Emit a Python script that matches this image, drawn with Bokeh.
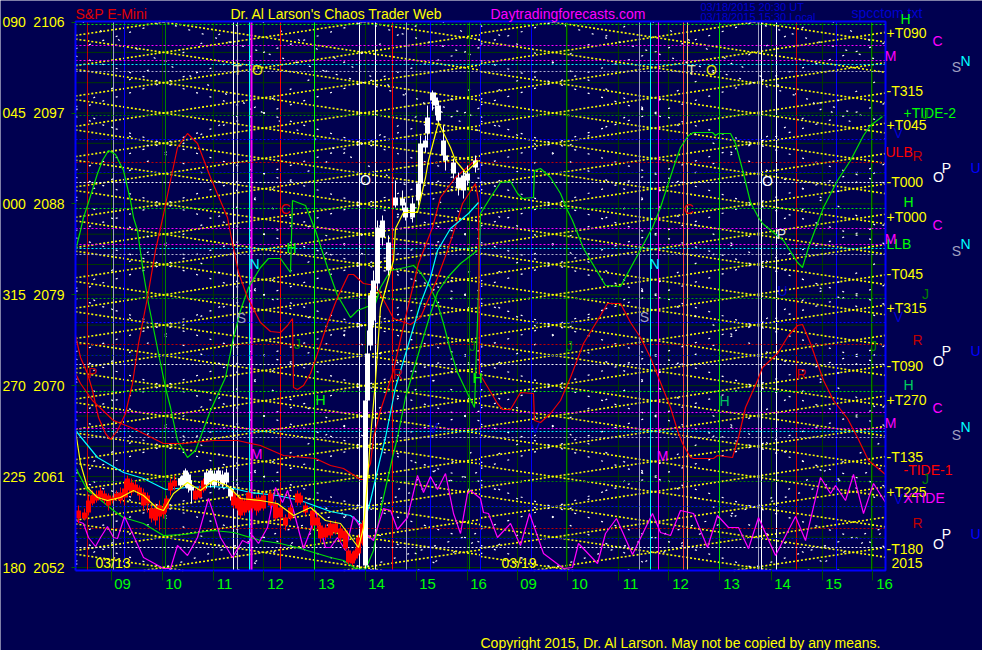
import numpy as np
from bokeh.embed import file_html
from bokeh.resources import INLINE
from bokeh.plotting import figure
from bokeh.models import FixedTicker, Label, Range1d

# ---- scales: time in chart bars, price in index points (about 10.1 levels per point)
BAR_SPAN = 810
LEVEL_SPAN = 549
LEVELS_PER_POINT = 10.1
BASE_LEVEL = 3
BASE_PRICE = 2052
PAGE_W, PAGE_H = 982, 650
LEFT_SPACE, BOTTOM_SPACE = 75, 80

def price(levels):
    return BASE_PRICE + (np.asarray(levels, dtype=float) - BASE_LEVEL) / LEVELS_PER_POINT

NAVY = "#000050"
YELLOW = "#ffff00"
LIME = "#00ff00"
FONT = "Liberation Sans"

price_ticks = [2052, 2061, 2070, 2079, 2088, 2097, 2106]
degree_labels = ["180", "225", "270", "315", "000", "045", "090"]
grid_prices = list(range(2052, 2107, 3))
hour_ticks = [36, 87, 138, 188, 239, 290, 341, 392, 442, 492, 543, 593, 644, 696, 747, 797]
hour_label_bars = [47, 98, 149, 200, 251, 301, 352, 403, 453, 504, 555, 605, 656, 707, 758, 809]
hour_labels = ["09", "10", "11", "12", "13", "14", "15", "16", "09", "10", "11", "12", "13", "14", "15", "16"]

event_bars = [12, 38, 49, 90, 158, 162, 174, 176, 205, 239, 284, 300, 317, 331, 355, 394, 405, 456,
              491, 564, 575, 583, 608, 612, 644, 683, 686, 701, 721, 761, 796]
event_colors = ["#c00000", "#a0a0c0", "#0000ff", "#008000", "#ffffff", "#c8c8c8", "#00ffff", "#ff00ff",
                "#ff0000", "#00ff00", "#ffffff", "#ffffff", "#ff0000", "#a0a0c0", "#0000ff", "#008000",
                "#0000ff", "#0000ff", "#008000", "#a0a0c0", "#00ffff", "#ff00ff", "#ff4040", "#ffcc66",
                "#00e000", "#a0a0c0", "#ffffff", "#ffffff", "#d00000", "#0000ff", "#008000"]
event_widths = [1, 1, 1, 1, 1, 1, 1, 2, 1, 1, 1, 1, 1, 1, 1, 1, 1, 1, 1, 1, 1, 1, 1, 1, 1, 1, 1, 1, 1, 1, 1]

planet_levels = [546, 525, 510, 506, 499, 455, 431, 408, 398, 388, 362, 342, 326, 322, 316, 272, 248, 226,
                 215, 206, 179, 158, 142, 139, 133, 89, 64, 42, 32, 23]
planet_colors = ["#00e000", "#ff00ff", "#ff00ff", "#00ffff", "#b0b0d0", "#008000", "#0000ff", "#c00000",
                 "#0000c0", "#ffffff", "#00e000", "#ff00ff", "#ff00ff", "#00ffff", "#b0b0d0", "#00a000",
                 "#0000ff", "#c00000", "#0000d0", "#ffffff", "#00e000", "#ff00ff", "#ff00ff", "#00ffff",
                 "#b0b0d0", "#008000", "#0000ff", "#c00000", "#0000d0", "#ffffff"]

tide2_bar = [0, 5, 8, 12, 22, 27, 33, 40, 48, 55, 58, 62, 68, 73, 83, 90, 95, 102, 112, 120, 135, 150, 158, 165, 173, 185, 193, 205, 210, 215, 217, 230, 240, 252, 262, 275, 282, 300, 305, 315, 330, 338, 345, 355, 362, 368, 375, 382, 392, 399, 403,
             405, 415, 425, 435, 442, 447, 458, 459, 465, 475, 485, 492, 497, 508, 530, 545, 563, 577, 585, 598, 605, 613, 618, 637, 640, 643, 655, 660, 668, 675, 683, 687, 698, 708, 722, 727, 733, 748, 762, 775, 788, 795, 807]
tide2_val = [320, 340, 353, 365, 397, 410, 420, 416, 400, 370, 353, 340, 297, 267, 217, 183, 163, 130, 113, 120, 160, 193, 233, 260, 283, 303, 312, 312, 305, 298, 370, 365, 340, 303, 275, 253, 260, 267, 283, 300, 303, 305, 298, 283, 267, 247, 220, 198, 177, 163, 278,
             357, 373, 388, 389, 377, 372, 373, 400, 402, 393, 377, 360, 350, 322, 285, 284, 317, 343, 363, 403, 423, 435, 438, 438, 435, 437, 437, 427, 397, 368, 353, 347, 338, 330, 308, 303, 323, 363, 390, 410, 435, 445, 454]

ulb_bar = [0, 5, 12, 17, 23, 30, 35, 42, 50, 57, 63, 72, 80, 88, 95, 102, 112, 122, 135, 152, 157, 163, 172, 185, 195, 205, 212, 217, 218, 222, 228, 235, 242, 252, 262, 273, 278, 288, 300, 310, 318, 335, 345, 361, 372, 382, 387, 400, 403, 404,
           422, 427, 435, 445, 458, 459, 465, 475, 485, 495, 508, 522, 532, 545, 555, 565, 575, 585, 595, 602, 607, 615, 618, 638, 642, 657, 663, 670, 682, 687, 702, 713, 722, 727, 735, 748, 758, 772, 782, 793, 810]
ulb_val = [235, 213, 197, 180, 153, 137, 131, 140, 157, 187, 227, 273, 320, 356, 390, 423, 437, 427, 393, 353, 327, 298, 273, 248, 239, 238, 245, 252, 183, 181, 185, 197, 217, 247, 273, 296, 296, 287, 285, 267, 252, 246, 253, 290, 320, 350, 367, 387, 370, 197,
           167, 161, 161, 178, 177, 150, 148, 157, 170, 193, 227, 250, 267, 267, 248, 233, 213, 188, 163, 140, 127, 113, 112, 112, 115, 113, 133, 163, 190, 203, 217, 235, 245, 246, 227, 190, 170, 152, 133, 110, 96]

tide1_bar = [0, 5, 17, 38, 58, 88, 108, 138, 162, 185, 208, 240, 255, 268, 285, 288, 295, 298, 305, 318, 330, 343, 357, 365, 380, 402]
tide1_val = [197, 187, 170, 150, 142, 127, 127, 130, 130, 125, 115, 112, 105, 102, 91, 91, 107, 133, 160, 200, 253, 307, 343, 373, 393, 412]

cyan_bar = [0, 22, 48, 68, 90, 112, 138, 158, 175, 202, 225, 255, 275, 288, 295, 305, 310, 320, 332, 345, 355, 362, 375, 393, 403]
cyan_val = [140, 113, 98, 92, 81, 83, 84, 82, 78, 75, 70, 59, 55, 45, 70, 113, 133, 183, 223, 267, 293, 320, 342, 357, 368]

lower_green_bar = [0, 12, 22, 38, 48, 68, 88, 108, 138, 158, 185, 205, 225, 255, 268, 280, 290, 298, 305, 317, 322, 330, 343, 355, 362, 372, 385, 402]
lower_green_val = [103, 80, 73, 60, 53, 47, 35, 36, 40, 38, 30, 27, 22, 13, 10, 2, 1, 20, 60, 113, 133, 173, 217, 257, 278, 293, 307, 320]

average_bar = [0, 5, 12, 22, 32, 45, 58, 68, 82, 88, 98, 112, 125, 138, 152, 165, 185, 202, 218, 235, 250, 265, 280, 283, 288, 292, 295, 300, 305, 318, 320, 328, 342, 350, 353, 363, 375, 380, 390, 403]
average_val = [140, 107, 83, 73, 70, 73, 80, 75, 62, 60, 77, 88, 80, 90, 85, 72, 70, 67, 55, 63, 50, 47, 27, 23, 43, 90, 133, 190, 263, 310, 342, 358, 358, 393, 410, 448, 423, 410, 398, 410]

xtide_bar = [0, 8, 13, 20, 25, 32, 38, 42, 49, 57, 68, 88, 95, 102, 112, 122, 133, 138, 145, 157, 167, 173, 177, 183, 192, 200, 207, 212, 218, 228, 235, 240, 250, 255, 262, 270, 278, 287, 298, 308, 315, 322, 332, 342, 348, 355, 362, 370, 378, 385, 392, 395, 405, 408, 413, 422, 435, 445, 454, 468, 488, 497, 503, 522, 530, 541, 557, 577, 585, 595, 605, 618, 632, 642, 653, 663, 673, 683, 700, 720, 730, 745, 755, 760, 770, 778, 788, 798, 810]
xtide_val = [50, 47, 33, 24, 33, 44, 33, 32, 54, 37, 13, 2, 2, 25, 15, 33, 72, 57, 33, 13, 30, 27, 35, 27, 43, 83, 68, 80, 60, 22, 40, 60, 23, 23, 33, 20, 54, 40, 30, 62, 60, 41, 53, 95, 78, 94, 81, 97, 57, 37, 77, 80, 72, 58, 57, 33, 47, 25, 57, 17, 2, 3, 27, 7, 37, 52, 16, 57, 38, 35, 60, 57, 23, 55, 43, 43, 22, 53, 15, 54, 30, 93, 77, 85, 70, 96, 57, 87, 68]

red_bar_x = [3, 9, 13, 17, 21, 25, 29, 33, 37, 41, 45, 49, 52, 56, 60, 64, 68, 72, 76, 80, 84, 88, 91, 95, 99, 120, 124, 128,
             158, 162, 165, 169, 173, 177, 181, 183, 188, 195, 200, 205, 210, 215, 222, 225, 230, 237, 242, 245, 250, 255, 260, 265, 270, 273, 277, 280, 283, 287]
red_high = [65, 62, 75, 80, 80, 83, 80, 77, 75, 80, 83, 90, 95, 92, 90, 85, 82, 78, 65, 67, 70, 67, 75, 92, 95, 82, 85, 92,
            80, 76, 75, 72, 80, 75, 75, 76, 78, 80, 70, 66, 56, 66, 80, 78, 68, 63, 56, 48, 46, 50, 50, 45, 42, 22, 19, 22, 36, 50]
red_low = [47, 50, 55, 65, 68, 70, 67, 60, 67, 70, 67, 65, 73, 75, 78, 70, 60, 58, 48, 45, 40, 52, 58, 75, 80, 70, 72, 78,
           62, 60, 52, 55, 58, 58, 55, 58, 60, 62, 50, 50, 40, 50, 65, 66, 55, 42, 42, 28, 30, 32, 36, 28, 20, 6, 5, 10, 15, 25]
red_top = [60, 58, 70, 75, 76, 80, 77, 75, 73, 77, 78, 82, 92, 88, 86, 83, 78, 75, 62, 62, 65, 63, 72, 88, 90, 80, 82, 90,
           77, 73, 73, 70, 78, 72, 72, 73, 75, 77, 67, 63, 53, 63, 77, 75, 65, 60, 53, 45, 43, 47, 47, 42, 40, 20, 17, 20, 33, 47]
red_bottom = [52, 52, 58, 67, 70, 73, 70, 65, 70, 72, 70, 73, 80, 78, 80, 75, 65, 67, 52, 50, 54, 56, 62, 80, 84, 71, 73, 80,
              65, 62, 55, 58, 60, 62, 60, 60, 62, 65, 52, 53, 45, 52, 68, 68, 58, 45, 45, 32, 33, 35, 38, 32, 22, 8, 7, 12, 17, 27]

white_bar_x = [105, 108, 110, 113, 116, 131, 135, 139, 143, 147, 151, 155,
               290, 292, 295, 298, 302, 307, 313, 320, 327, 330, 337, 343, 345, 350, 352, 357, 360, 363, 368, 370, 378, 383, 388, 392, 400]
white_high = [94, 97, 102, 98, 90, 100, 102, 100, 103, 100, 102, 84,
              172, 240, 280, 300, 350, 355, 335, 390, 380, 368, 373, 392, 435, 435, 465, 480, 478, 470, 445, 420, 412, 398, 400, 405, 415]
white_low = [83, 85, 83, 78, 67, 82, 83, 82, 85, 83, 84, 70,
             2, 165, 220, 245, 280, 325, 295, 363, 360, 350, 348, 365, 380, 418, 430, 460, 455, 445, 410, 400, 392, 375, 372, 385, 398]
white_top = [92, 95, 100, 96, 84, 98, 100, 97, 100, 96, 98, 82,
             170, 217, 275, 290, 343, 350, 328, 373, 372, 363, 367, 387, 427, 430, 453, 478, 473, 465, 430, 415, 408, 393, 395, 397, 410]
white_bottom = [85, 87, 85, 82, 80, 86, 88, 85, 90, 86, 88, 74,
                5, 170, 225, 250, 287, 333, 300, 365, 365, 353, 353, 370, 387, 423, 437, 470, 465, 450, 415, 410, 397, 382, 380, 390, 403]

# diagonal time/price lattice: blocks, the bar at which its lines cross on the grid, rise per 100 bars
lattice_blocks = [(0, 405, 88), (405, 810, 478)]
lattice_rise = 1.5
dot_lattice = [(3.0, 6, 0), (5.0, 9, 2)]  # rise, spacing, shift in points

title_labels = [
    ("S&P E-Mini", 75, 13, "#e00000"),
    ("Dr. Al Larson's Chaos Trader Web", 230, 13, YELLOW),
    ("Daytradingforecasts.com", 490, 13, "#ff00ff"),
    ("Copyright 2015, Dr. Al Larson. May not be copied by any means.", 480, 642, YELLOW),
    ("spcctom.txt", 851, 12, "#0000d0"),
    ("03/13", 95, 562, YELLOW), ("03/19", 501, 562, YELLOW), ("2015", 891, 562, YELLOW),
    ("+T090", 886, 32, YELLOW), ("-T315", 886, 90, YELLOW), ("+TIDE-2", 903, 112, LIME),
    ("+T045", 886, 124, YELLOW), ("ULB", 885, 151, "#ff0000"), ("-T000", 886, 181, YELLOW),
    ("+T000", 886, 216, YELLOW), ("LLB", 886, 243, LIME), ("-T045", 886, 273, YELLOW),
    ("+T315", 886, 307, YELLOW), ("-T090", 886, 365, YELLOW), ("+T270", 886, 399, YELLOW),
    ("-T135", 886, 456, YELLOW), ("-TIDE-1", 903, 469, "#ff0000"), ("+T225", 886, 491, YELLOW),
    ("XTIDE", 903, 497, "#ff00ff"), ("-T180", 886, 548, YELLOW),
]
date_labels = [("03/18/2015 20:30 UT", 700, 6), ("03/18/2015 15:30 Local", 700, 16)]
letter_labels = [
    ("H", 905, 18, LIME), ("C", 937, 40, "#ff00ff"), ("M", 890, 55, "#ff00ff"), ("S", 956, 66, "#a0a0c0"), ("N", 965, 60, "#00ffff"),
    ("J", 925, 113, "#008000"), ("V", 898, 132, "#0000d0"), ("R", 917, 155, "#c00000"), ("O", 938, 176, "#ffffff"), ("P", 946, 167, "#ffffff"), ("U", 975, 167, "#0000ff"),
    ("H", 908, 201, LIME), ("C", 937, 224, "#ff00ff"), ("M", 890, 238, "#ff00ff"), ("S", 956, 250, "#a0a0c0"), ("N", 965, 243, "#00ffff"),
    ("J", 925, 293, "#008000"), ("V", 898, 316, "#0000d0"), ("R", 917, 339, "#c00000"), ("O", 938, 360, "#ffffff"), ("P", 946, 350, "#ffffff"), ("U", 975, 350, "#0000ff"),
    ("H", 908, 384, "#00d060"), ("C", 937, 407, "#ff00ff"), ("M", 890, 422, "#ff00ff"), ("S", 956, 434, "#a0a0c0"), ("N", 965, 426, "#00ffff"),
    ("J", 925, 478, "#008000"), ("V", 898, 498, "#0000d0"), ("R", 917, 522, "#c00000"), ("O", 938, 543, "#ffffff"), ("P", 946, 533, "#ffffff"), ("U", 975, 533, "#0000ff"),
    ("T", 237, 69, "#e0e0a0"), ("O", 257, 69, "#e0e000"), ("T", 691, 69, "#e0e0a0"), ("O", 711, 69, "#e0e000"),
    ("O", 365, 179, "#ffffff"), ("O", 767, 180, "#ffffff"), ("C", 285, 208, "#e00000"), ("C", 688, 208, "#e00000"),
    ("P", 781, 233, "#e0e0e0"), ("H", 291, 247, LIME), ("N", 254, 263, "#00ffff"), ("N", 654, 263, "#00ffff"),
    ("U", 782, 290, "#0000d0"), ("S", 241, 317, "#a0a0c0"), ("S", 644, 316, "#a0a0c0"),
    ("J", 297, 343, "#008000"), ("J", 472, 345, "#008000"), ("J", 569, 345, "#008000"), ("J", 873, 345, "#008000"),
    ("P", 92, 372, "#c00000"), ("R", 397, 373, "#c00000"), ("R", 801, 373, "#c00000"), ("H", 477, 377, LIME),
    ("H", 320, 399, LIME), ("H", 724, 400, "#00c060"), ("V", 433, 427, "#0000d0"), ("V", 535, 427, "#0000d0"),
    ("M", 256, 453, "#ff00ff"), ("M", 662, 455, "#ff00ff"),
]

chart_bottom = float(price(0))
chart_top = float(price(LEVEL_SPAN))

# the frame fills the page so that the captions around the chart can be drawn; the axes sit on the chart's edges
p = figure(width=PAGE_W, height=PAGE_H, output_backend="svg", toolbar_location=None,
           x_range=Range1d(-LEFT_SPACE, PAGE_W - LEFT_SPACE),
           y_range=Range1d(float(price(-BOTTOM_SPACE)), float(price(PAGE_H - BOTTOM_SPACE))),
           min_border=0, background_fill_color=NAVY, border_fill_color=NAVY, outline_line_color=None)
p.grid.visible = False

yaxis = p.yaxis[0]
yaxis.fixed_location = 0
yaxis.ticker = FixedTicker(ticks=price_ticks)
yaxis.axis_line_color = None
yaxis.major_tick_line_color = "#006000"
yaxis.major_tick_out = 4
yaxis.major_tick_in = 0
yaxis.minor_tick_line_color = None
yaxis.major_label_standoff = 7
yaxis.major_label_text_color = YELLOW
yaxis.major_label_text_font = FONT
yaxis.major_label_text_font_size = "14px"
yaxis.major_label_overrides = {t: str(t) for t in price_ticks}

xaxis = p.xaxis[0]
xaxis.fixed_location = chart_bottom
xaxis.ticker = FixedTicker(ticks=hour_label_bars, minor_ticks=hour_ticks)
xaxis.axis_line_color = None
xaxis.major_tick_line_color = None
xaxis.major_tick_out = 0
xaxis.major_tick_in = 0
xaxis.minor_tick_line_color = "#005000"
xaxis.minor_tick_out = 10
xaxis.minor_tick_in = 0
xaxis.major_label_standoff = -2
xaxis.major_label_text_color = LIME
xaxis.major_label_text_font = FONT
xaxis.major_label_text_font_size = "15px"
xaxis.major_label_overrides = dict(zip(hour_label_bars, hour_labels))

# dark grid
p.segment(hour_ticks, chart_bottom, hour_ticks, chart_top, line_color="#003800", line_width=1)
p.segment(0, grid_prices, BAR_SPAN, grid_prices, line_color="#003800", line_width=1)

def clipped_line(g, slope, anchor, start, end):
    """End points of a lattice line, trimmed to the chart's price span."""
    a, b = g + slope * (start - anchor), g + slope * (end - anchor)
    x0, x1 = float(start), float(end)
    for lim, keep_above in ((chart_bottom, True), (chart_top, False)):
        if keep_above:
            if a < lim:
                x0 = anchor + (lim - g) / slope
            if b < lim:
                x1 = anchor + (lim - g) / slope
        else:
            if a > lim:
                x0 = anchor + (lim - g) / slope
            if b > lim:
                x1 = anchor + (lim - g) / slope
        a, b = g + slope * (x0 - anchor), g + slope * (x1 - anchor)
    return x0, x1, a, b

low_p, high_p = BASE_PRICE - 60, 2106 + 60
for rise, spacing, shift, color, dash, width in [
    (lattice_rise, 3, 0, YELLOW, "2 2", 1.6),
    (dot_lattice[0][0], dot_lattice[0][1], dot_lattice[0][2], "#ffffff", "2 12", 1.2),
    (dot_lattice[1][0], dot_lattice[1][1], dot_lattice[1][2], "#ffffff", "2 18", 1.2),
]:
    xs, ys = [], []
    for start, end, anchor in lattice_blocks:
        for g in np.arange(low_p + shift, high_p, spacing):
            for sign in (1, -1):
                x0, x1, a, b = clipped_line(float(g), sign * rise / 100, anchor, start, end)
                if x1 > x0 and chart_bottom <= min(a, b) and max(a, b) <= chart_top + 1e-9:
                    xs.append([x0, x1])
                    ys.append([a, b])
    p.multi_line(xs, ys, line_color=color, line_dash=dash, line_width=width)

# event verticals and planetary levels
for b, c, w in zip(event_bars, event_colors, event_widths):
    p.segment(b, chart_bottom, b, chart_top, line_color=c, line_width=w)
for lv, c in zip(planet_levels, planet_colors):
    p.line([0, BAR_SPAN], [float(price(lv))] * 2, line_color=c, line_width=1.2, line_dash="2 2")

# forecast curves
p.line(tide2_bar, price(tide2_val), line_color="#00e000", line_width=1.2)
p.line(ulb_bar, price(ulb_val), line_color="#f00000", line_width=1.2)
p.line(tide1_bar, price(tide1_val), line_color="#f00000", line_width=1.2)
p.line(cyan_bar, price(cyan_val), line_color="#00ffff", line_width=1.2)
p.line(lower_green_bar, price(lower_green_val), line_color="#00e000", line_width=1.2)
p.line(xtide_bar, price(xtide_val), line_color="#ff00ff", line_width=1.2)

# price bars
p.segment(red_bar_x, price(red_low), red_bar_x, price(red_high), line_color="#ff0000", line_width=1)
p.vbar(red_bar_x, width=5, bottom=price(red_bottom), top=price(red_top), fill_color="#ff0000", line_color=None)
p.segment(white_bar_x, price(white_low), white_bar_x, price(white_high), line_color="#ffffff", line_width=1)
p.vbar(white_bar_x, width=5, bottom=price(white_bottom), top=price(white_top), fill_color="#ffffff", line_color=None)
p.line(average_bar, price(average_val), line_color="#ffff00", line_width=1.2)

# chart border
p.line([0, BAR_SPAN, BAR_SPAN, 0, 0], [chart_bottom, chart_bottom, chart_top, chart_top, chart_bottom],
       line_color="#0000ff", line_width=2)

def place(text, px, py, color, align, size="14px"):
    level = PAGE_H - BOTTOM_SPACE - py
    p.add_layout(Label(x=px - LEFT_SPACE, y=float(price(level)), text=text, text_color=color, text_font=FONT,
                       text_font_size=size, text_align=align, text_baseline="middle"))

for t, v in zip(price_ticks, degree_labels):
    place(v, 2, PAGE_H - BOTTOM_SPACE - (BASE_LEVEL + (t - BASE_PRICE) * LEVELS_PER_POINT), YELLOW, "left", "14px")
for text, px, py, color in title_labels:
    place(text, px, py, color, "left")
for text, px, py in date_labels:
    place(text, px, py, "#0000d0", "left", "11px")
for text, px, py, color in letter_labels:
    place(text, px, py, color, "center")

open("out.html", "w").write(file_html(p, INLINE))
